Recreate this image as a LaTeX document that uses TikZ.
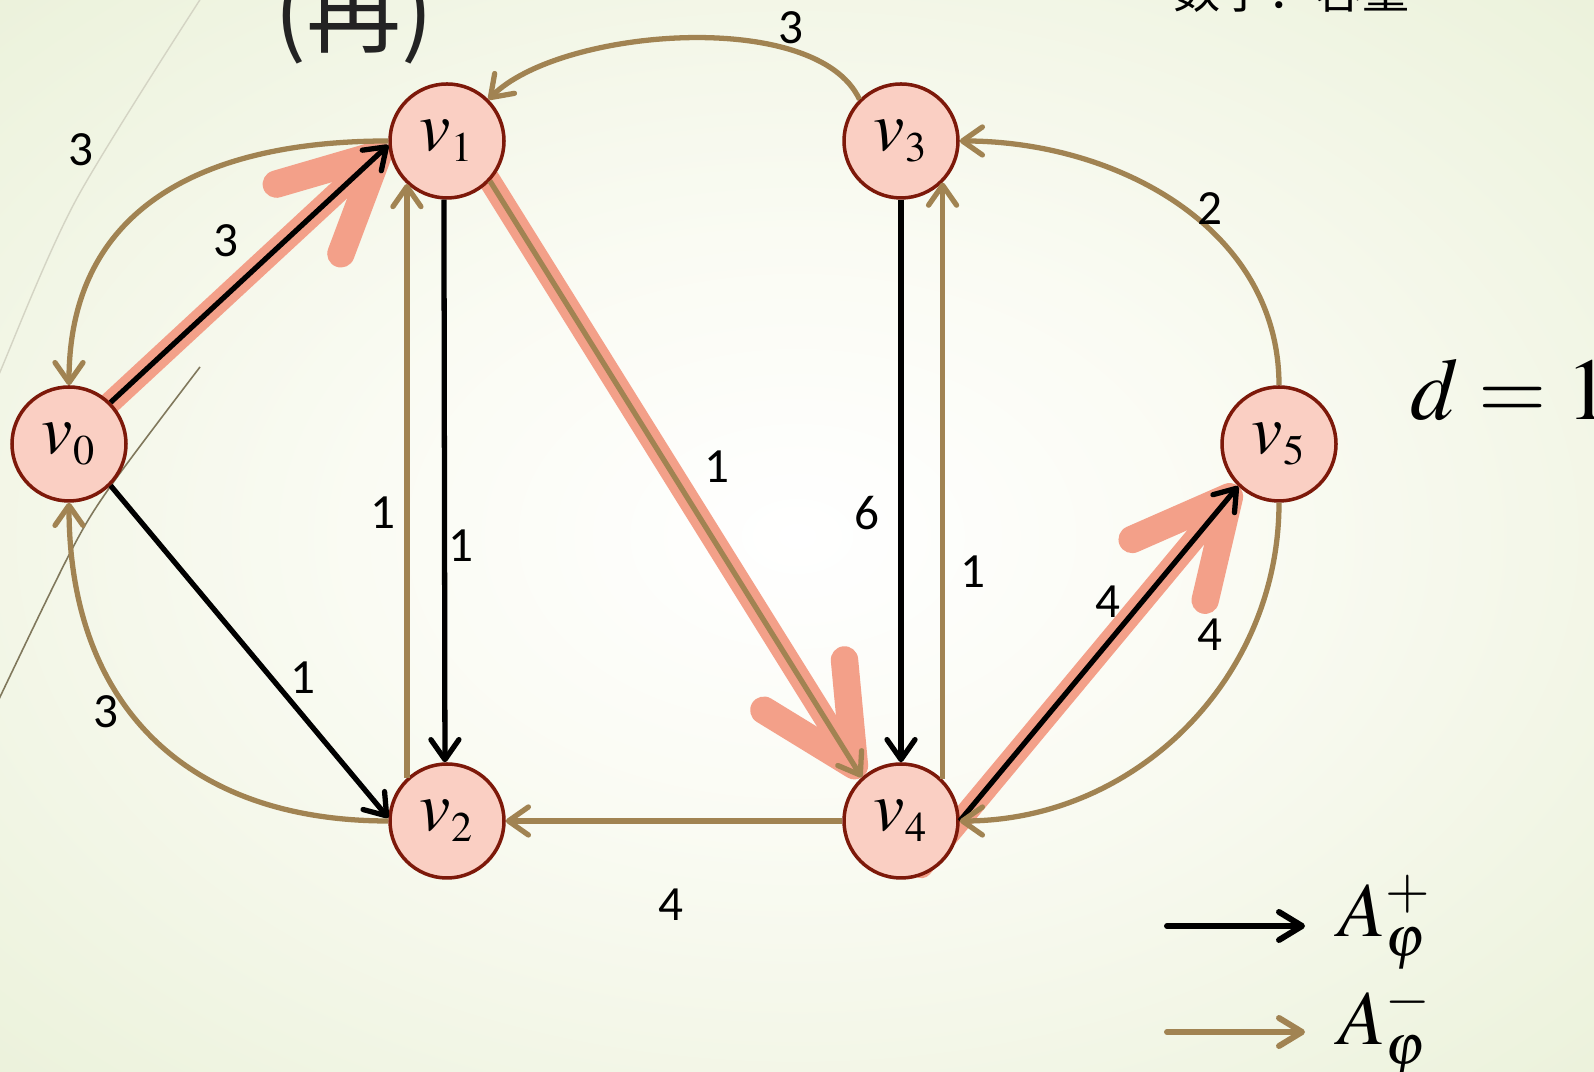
\documentclass[tikz,border=0pt]{standalone}
\usepackage{mathptmx}
\usepackage[no-math]{fontspec}
\newfontfamily\wtfont{Carlito}
\newfontfamily\cjkfont{Noto Sans CJK SC}
\usetikzlibrary{arrows.meta}
\definecolor{brn}{RGB}{161,131,82}
\definecolor{hlred}{RGB}{243,160,137}
\definecolor{nodefill}{RGB}{250,207,195}
\definecolor{nodeline}{RGB}{125,25,10}
\definecolor{bgin}{RGB}{250,251,243}
\definecolor{bgmid}{RGB}{236,242,220}
\definecolor{bgout}{RGB}{220,231,193}
\definecolor{decoa}{RGB}{212,212,196}
\definecolor{decob}{RGB}{128,120,92}
\definecolor{tgray}{RGB}{35,35,35}
\pgfdeclareradialshading{bgshade}{\pgfpoint{0bp}{0bp}}{color(0bp)=(white); color(14bp)=(bgin); color(35bp)=(bgmid); color(50bp)=(bgout)}
\pgfdeclarelayer{bg}
\pgfsetlayers{bg,main}
\tikzstyle{vx}=[shape=circle, minimum size=11.4mm, inner sep=0, fill=nodefill, draw=nodeline, line width=1pt, font=\fontsize{20}{24}\selectfont]
\tikzstyle{pe}=[draw=black, line width=1.5pt, -{Straight Barb[length=2mm,width=2.8mm,round]}]
\tikzstyle{me}=[draw=brn, line width=1.5pt, -{Straight Barb[length=2mm,width=2.8mm,round]}]
\tikzstyle{hl}=[draw=hlred, line width=6.3pt, line cap=round, shorten <=-6mm, -{Straight Barb[length=9.5mm,width=9.5mm,round,line width'=7.8pt]}]
\tikzstyle{wt}=[font=\wtfont\fontsize{14}{16}\selectfont, inner sep=1pt]
\tikzstyle{lgd}=[line width=1.7pt, line cap=round, -{Straight Barb[length=2.3mm,width=2.8mm,round]}]

\begin{document}
\begin{tikzpicture}
\useasboundingbox (0,0) rectangle (15.94,10.72);
\clip (0,0) rectangle (15.94,10.72);
%
\draw (0.69,6.28) node[vx] (v0) {$v_{\scriptscriptstyle 0}$};
\draw (4.47,9.31) node[vx] (v1) {$v_{\scriptscriptstyle 1}$};
\draw (4.47,2.51) node[vx] (v2) {$v_{\scriptscriptstyle 2}$};
\draw (9.01,9.31) node[vx] (v3) {$v_{\scriptscriptstyle 3}$};
\draw (9.01,2.51) node[vx] (v4) {$v_{\scriptscriptstyle 4}$};
\draw (12.79,6.28) node[vx] (v5) {$v_{\scriptscriptstyle 5}$};
%
\begin{pgfonlayer}{bg}
\shade[shading=bgshade] (0,0) rectangle (15.94,10.72);
\draw[line width=0.4pt, color=decoa] plot[smooth] coordinates {(2.05,10.80) (0.76,8.72) (0,7.00) (-0.05,6.85)};
\draw[line width=0.45pt, color=decob] plot[smooth] coordinates {(2.00,7.05) (1.10,5.85) (0.70,5.19) (0,3.75) (-0.05,3.62)};
\draw[hl] (v0.45) -- (v1.184);
\draw[hl] (v1.-43) -- (v4.132);
\draw[hl] (v4.east) -- (v5.226);
\end{pgfonlayer}
%
\draw[pe] (v0.45) -- (v1.184);
\draw[pe] (v0.-45) -- (v2.177);
\draw[pe] (v1.-93) -- (v2.92);
\draw[pe] (v3) -- (v4);
\draw[pe] (v4.east) -- (v5.226);
%
\draw[me] (v1.west) to[out=180, in=90, looseness=1.15] (v0.north);
\draw[me] (v2.west) to[out=180, in=-90, looseness=1.15] (v0.south);
\draw[me] (v2.133) -- (v1.-133);
\draw[me] (v1.-43) -- (v4.132);
\draw[me] (v3.135) to[out=115, in=45, looseness=0.7] (v1.45);
\draw[me] (v4.45) -- (v3.-45);
\draw[me] (v4.west) -- (v2.east);
\draw[me] (v5.north) to[out=90, in=0] (v3.east);
\draw[me] (v5.south) to[out=-90, in=0] (v4.east);
%
\node[wt] (w01) at (2.26,8.31) {3};
\node[wt] (w10) at (0.81,9.22) {3};
\node[wt] (w31) at (7.91,10.44) {3};
\node[wt] (w53) at (12.10,8.63) {2};
\node[wt] (w14) at (7.17,6.05) {1};
\node[wt] (w21) at (3.83,5.59) {1};
\node[wt] (w12) at (4.61,5.26) {1};
\node[wt] (w34) at (8.67,5.59) {6};
\node[wt] (w43) at (9.73,5.00) {1};
\node[wt] (w45) at (11.08,4.70) {4};
\node[wt] (w54) at (12.10,4.37) {4};
\node[wt] (w02) at (3.03,3.94) {1};
\node[wt] (w20) at (1.06,3.60) {3};
\node[wt] (w42) at (6.71,1.67) {4};
%
\node[anchor=base west, inner sep=0, font=\fontsize{25}{30}\selectfont] (dval) at (14.10,6.52) {$d=1$};
\node[anchor=base west, inner sep=0, text=tgray, font=\cjkfont\fontsize{27}{30}\selectfont] (ttl) at (2.74,10.26) {(再)};
\node[anchor=base west, inner sep=0, font=\cjkfont\fontsize{13.4}{16}\selectfont] (note) at (11.73,10.63) {数字：容量};
%
\coordinate (lb1) at (11.67,1.46);
\coordinate (le1) at (13.05,1.46);
\coordinate (lb2) at (11.67,0.40);
\coordinate (le2) at (13.05,0.40);
\draw[lgd, draw=black] (lb1) -- (le1);
\draw[lgd, draw=brn] (lb2) -- (le2);
\node[anchor=base west, inner sep=0, font=\fontsize{22}{26}\selectfont] (lgp) at (13.38,1.35) {$A_\varphi^+$};
\node[anchor=base west, inner sep=0, font=\fontsize{22}{26}\selectfont] (lgm) at (13.38,0.27) {$A_\varphi^-$};
\end{tikzpicture}
\end{document}
